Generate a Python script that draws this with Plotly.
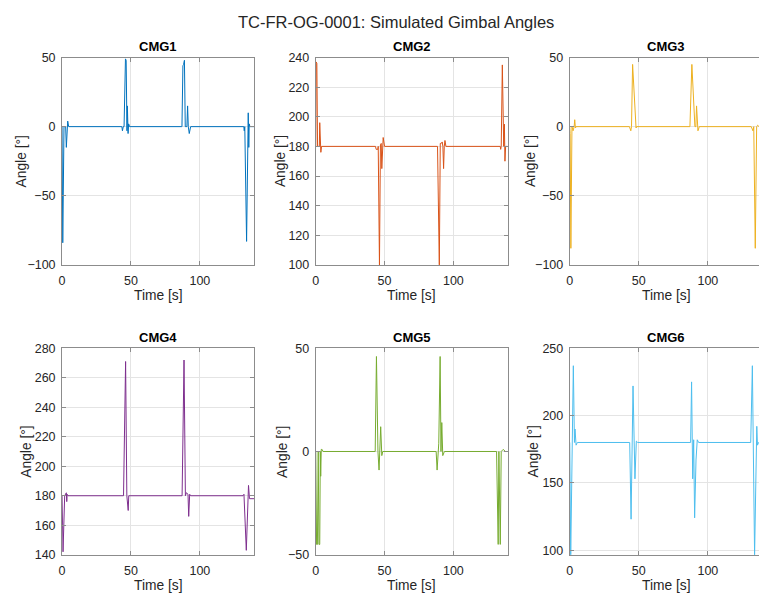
import plotly.graph_objects as go

# ---------------- data ----------------
names = ["CMG1", "CMG2", "CMG3", "CMG4", "CMG5", "CMG6"]

t_cmg1 = [0, 0.5, 1.4, 2.6, 3.1, 3.6, 4.1, 4.8,
          43.4, 43.8, 44.4, 45.0, 45.5, 46.0, 46.5, 46.9, 47.1, 47.4, 47.9, 48.3, 49.0,
          86.8, 87.0, 87.7, 88.2, 88.8, 89.4, 90.6, 91.1, 91.6, 92.3, 93.3,
          131.9, 132.2, 132.6, 133.9, 134.9, 135.1, 135.5, 135.8, 136.3, 139.5]
a_cmg1 = [0, -84, 0, 0, -15, 0, 4, 0,
          0, -3, 0, 0, 44, 49, 48, 0, -3, 15, -5, 2, 0,
          0, 0, 44, 45, 48, 0, 0, 15, 0, -5, 0,
          0, -3, 0, -83, 0, 10, -15, 2, 0, 0]

t_cmg2 = [0, 0.3, 0.8, 1.3, 2.6, 2.9, 3.3, 3.7, 4.2,
          43.4, 43.9, 45.1, 45.4, 46.3, 47.0, 47.6, 48.0, 48.5, 49.0, 50.0,
          88.5, 89.8, 90.5, 91.2, 91.9, 92.4, 92.9, 93.4, 93.9, 94.6,
          134.1, 134.4, 134.8, 135.6, 136.6, 137.1, 137.5, 138.0, 139.5]
a_cmg2 = [180, 237, 236, 180, 180, 196, 180, 176, 180,
          180, 178, 178, 180, 100, 181, 182, 165, 180, 186, 180,
          180, 100, 182, 182, 183, 180, 165, 180, 184, 180,
          180, 178, 180, 235, 180, 195, 170, 180, 180]

t_cmg3 = [0, 0.3, 0.8, 1.6, 2.4, 3.2, 3.6, 4.1, 4.6,
          43.2, 44.2, 44.7, 45.5, 46.8, 47.5, 48.0, 48.4,
          87.0, 88.4, 89.5, 90.6, 91.3, 91.8, 92.8, 93.8,
          131.4, 132.6, 133.2, 134.3, 135.3, 136.0, 137.0, 139.5]
a_cmg3 = [0, -5, -88, 0, -3, 0, 5, -1, 0,
          0, -3, 0, 45, 20, 0, -1, 0,
          0, 45, 20, 0, 0, 15, -3, 0,
          0, -3, 0, -88, 0, 1, 0, 0]

t_cmg4 = [0, 0.7, 1.9, 3.1, 3.4, 3.7, 4.3,
          44.6, 46.1, 47.0, 48.0, 48.4,
          87.1, 88.5, 89.5, 90.2, 91.4, 91.9, 92.6, 93.3,
          131.3, 132.0, 133.7, 134.6, 135.3, 136.0, 139.5]
a_cmg4 = [180, 142, 180, 182, 176, 181, 180,
          180, 271, 180, 170, 180,
          180, 272, 180, 182, 181, 166, 181, 180,
          180, 181, 143, 180, 187, 178, 178]

t_cmg5 = [0, 0.6, 1.2, 1.8, 2.3, 2.9, 3.3, 3.6, 4.0, 4.6, 5.3,
          43.2, 44.1, 45.2, 46.0, 47.2, 48.0, 48.7,
          87.5, 88.2, 89.4, 90.4, 91.0, 91.6, 92.3, 93.5,
          131.4, 132.1, 132.6, 133.1, 133.6, 134.1, 134.8, 136.2, 137.9, 139.5]
a_cmg5 = [0, -45, -45, 0, -45, -45, 0, -12, 1, 1, 0,
          0, 46, 0, -9, 12, -2, 0,
          0, -9, 4, 46, 0, 14, -2, 0,
          0, -45, -45, 0, -45, -45, 0, 1, 0, 0]

t_cmg6 = [0, 0.7, 2.6, 3.4, 3.8, 4.6, 5.5,
          43.4, 44.4, 45.8, 46.5, 47.2, 48.2, 49.2,
          87.5, 88.2, 89.0, 89.7, 90.4, 91.4, 92.3, 93.3,
          131.0, 132.2, 133.8, 135.4, 135.9, 136.7, 139.5]
a_cmg6 = [180, 96, 237, 180, 190, 178, 180,
          180, 123, 222, 178, 153, 181, 180,
          180, 225, 153, 182, 124, 167, 182, 180,
          180, 237, 96, 192, 178, 180, 180]

times = [t_cmg1, t_cmg2, t_cmg3, t_cmg4, t_cmg5, t_cmg6]
angles = [a_cmg1, a_cmg2, a_cmg3, a_cmg4, a_cmg5, a_cmg6]

y_ranges = [[-100, 50], [100, 240], [-100, 50], [140, 280], [-50, 50], [96.6, 250]]
y_ticks = [[-100, -50, 0, 50], list(range(100, 241, 20)), [-100, -50, 0, 50],
           list(range(140, 281, 20)), [-50, 0, 50], [100, 150, 200, 250]]
x_ticks = [0, 50, 100]

colors = ["#0072BD", "#D95319", "#EDB120", "#7E2F8E", "#77AC30", "#4DBEEE"]

# ---------------- layout geometry ----------------
W, H = 759, 606
xdom = [[59.3 / W, 252.3 / W], [314 / W, 506.7 / W], [569 / W, 1.0]]
ydom = [[1 - 264 / H, 1 - 51.7 / H], [1 - 560.7 / H, 1 - 349.3 / H]]
x_ranges = [[0, 139.5], [0, 139.5], [0, 137.0]]
ylab_off = [41, 36, 40, 36, 33.5, 36]

FONT = "Liberation Sans, Arial, Helvetica, sans-serif"
AX_LINE = "#8c8c8c"
GRID = "#e4e4e4"
TXT = "#262626"

fig = go.Figure()
layout = dict(
    width=W, height=H, autosize=False,
    margin=dict(l=0, r=0, t=0, b=0),
    paper_bgcolor="white", plot_bgcolor="white",
    showlegend=False,
    font=dict(family=FONT, size=12, color=TXT),
)
annotations = []

for i in range(6):
    row, col = divmod(i, 3)
    sfx = "" if i == 0 else str(i + 1)
    fig.add_trace(go.Scatter(
        x=times[i], y=angles[i], mode="lines",
        line=dict(color=colors[i], width=1),
        xaxis="x" + sfx, yaxis="y" + sfx, hoverinfo="skip",
    ))
    layout["xaxis" + sfx] = dict(
        domain=xdom[col], anchor="y" + sfx, range=x_ranges[col],
        tickvals=x_ticks, ticks="inside", ticklen=4, tickcolor=AX_LINE,
        showline=True, linecolor=AX_LINE, linewidth=1, mirror="ticks",
        showgrid=True, gridcolor=GRID, gridwidth=1, zeroline=False,
        tickfont=dict(family=FONT, size=12.5, color=TXT), ticklabelstandoff=4,
    )
    layout["yaxis" + sfx] = dict(
        domain=ydom[row], anchor="x" + sfx, range=y_ranges[i],
        tickvals=y_ticks[i], ticks="inside", ticklen=4, tickcolor=AX_LINE,
        showline=True, linecolor=AX_LINE, linewidth=1,
        mirror=("ticks" if col < 2 else False),
        showgrid=True, gridcolor=GRID, gridwidth=1, zeroline=False,
        tickfont=dict(family=FONT, size=12.5, color=TXT), ticklabelstandoff=3,
    )
    # subplot title
    xc = (xdom[col][0] + (xdom[col][1] if col < 2 else 763 / W)) / 2
    annotations.append(dict(
        text="<b>" + names[i] + "</b>", x=xc, y=ydom[row][1] + 1.5 / H,
        xref="paper", yref="paper", xanchor="center", yanchor="bottom",
        showarrow=False, font=dict(family=FONT, size=13, color="#000000"),
    ))
    # x axis title
    annotations.append(dict(
        text="Time [s]", x=xc, y=ydom[row][0] - 22 / H,
        xref="paper", yref="paper", xanchor="center", yanchor="top",
        showarrow=False, font=dict(family=FONT, size=13.8, color=TXT),
    ))
    # y axis title
    annotations.append(dict(
        text="Angle [°]", x=xdom[col][0] - ylab_off[i] / W,
        y=(ydom[row][0] + ydom[row][1]) / 2,
        xref="paper", yref="paper", xanchor="center", yanchor="middle",
        textangle=-90, showarrow=False,
        font=dict(family=FONT, size=13.8, color=TXT),
    ))

annotations.append(dict(
    text="TC-FR-OG-0001: Simulated Gimbal Angles", x=395 / W, y=1 - 15 / H,
    xref="paper", yref="paper", xanchor="center", yanchor="middle",
    showarrow=False, font=dict(family=FONT, size=16.5, color=TXT),
))
layout["annotations"] = annotations
fig.update_layout(**layout)
fig.write_html("out.html")
